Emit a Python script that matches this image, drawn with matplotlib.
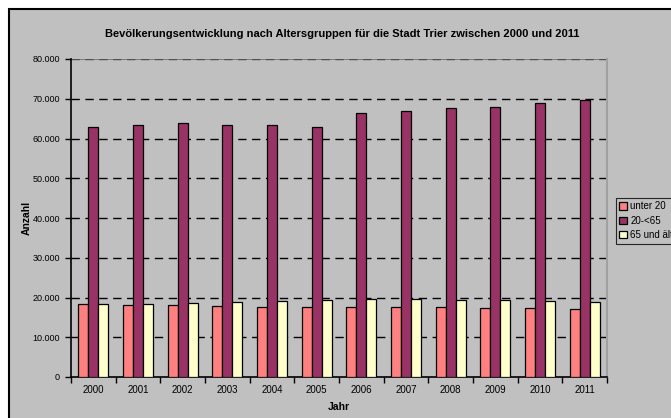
import numpy as np
import matplotlib
matplotlib.use("Agg")
import matplotlib.pyplot as plt
import matplotlib.patches as mpatches
from matplotlib.ticker import FuncFormatter, MultipleLocator

plt.rcParams["font.family"] = ["Liberation Sans", "DejaVu Sans"]

YEARS = [2000, 2001, 2002, 2003, 2004, 2005, 2006, 2007, 2008, 2009, 2010, 2011]
UNTER_20 = [18250, 18150, 18000, 17800, 17700, 17550, 17700, 17550, 17500, 17300, 17300, 17150]
MITTE = [63000, 63500, 63800, 63500, 63300, 62900, 66300, 66900, 67700, 67900, 69000, 69700]
AELTER = [18250, 18400, 18650, 18850, 19200, 19400, 19600, 19500, 19300, 19300, 19000, 18800]
SERIES = ["unter 20", "20-<65", "65 und älter"]

BG = "#c0c0c0"
COLORS = ["#ff8080", "#993366", "#ffffcc"]

W, H = 671, 418


def de_fmt(v, _pos):
    return f"{int(v):,}".replace(",", ".")


def main():
    fig = plt.figure(figsize=(W / 100, H / 100), dpi=100)
    fig.patch.set_facecolor("white")

    # chart area (grey box with black frame, runs off right/bottom edge)
    fig.patches.append(mpatches.Rectangle(
        (8.5 / W, -0.05), 1.1, 1 - 8.5 / H + 0.05,
        transform=fig.transFigure, facecolor=BG, edgecolor="black",
        linewidth=1.5, zorder=-10))

    ax = fig.add_axes([71 / W, 41 / H, (607 - 71) / W, (377.5 - 59.5) / H])
    ax.set_facecolor(BG)

    x = np.arange(len(YEARS))
    bw = 0.224
    for i, (vals, col, name) in enumerate(zip([UNTER_20, MITTE, AELTER], COLORS, SERIES)):
        ax.bar(x + (i - 1) * bw, vals, bw, color=col, edgecolor="black",
               linewidth=0.9, label=name, zorder=3)

    ax.set_xlim(-0.5, len(YEARS) - 0.5)
    ax.set_ylim(0, 80000)
    ax.yaxis.set_major_locator(MultipleLocator(10000))
    ax.yaxis.set_major_formatter(FuncFormatter(de_fmt))

    for v in range(10000, 80000, 10000):
        ax.axhline(v, color="black", linewidth=1, dashes=(6, 4), zorder=1)
    ax.axhline(80000, color="#808080", linewidth=1.5, zorder=1)
    ax.axhline(80000, color="#505050", linewidth=1, dashes=(6, 4), zorder=1)

    ax.set_xticks(x)
    ax.set_xticklabels([str(y) for y in YEARS])
    ax.set_xticks(np.arange(-0.5, len(YEARS)), minor=True)
    ax.tick_params(axis="x", which="major", length=0, pad=6, labelsize=7)
    ax.tick_params(axis="x", which="minor", length=4, width=1, direction="out")
    ax.tick_params(axis="y", length=4, width=1, direction="out", labelsize=6.5, pad=4)

    for s in ("left", "bottom"):
        ax.spines[s].set_color("black")
        ax.spines[s].set_linewidth(1.2)
    ax.spines["top"].set_visible(False)
    ax.spines["right"].set_color("#a0a0a0")
    ax.spines["right"].set_linewidth(1.5)

    ax.set_xlabel("Jahr", fontsize=7.5, fontweight="bold")
    ax.xaxis.set_label_coords(0.5, -25 / 318)
    ax.set_ylabel("Anzahl", fontsize=7.5, fontweight="bold")
    ax.yaxis.set_label_coords(-39 / 536, 0.5)

    fig.text(342 / W, 1 - 34 / H,
             "Bevölkerungsentwicklung nach Altersgruppen für die Stadt Trier zwischen 2000 und 2011",
             ha="center", va="center", fontsize=8, fontweight="bold")

    leg = fig.legend(loc="upper left", bbox_to_anchor=(616 / W, 1 - 198 / H),
                     fontsize=7, frameon=True, fancybox=False,
                     handlelength=0.8, handleheight=0.8, handletextpad=0.3,
                     labelspacing=0.45, borderpad=0.35, borderaxespad=0)
    leg.get_frame().set_facecolor(BG)
    leg.get_frame().set_edgecolor("black")
    leg.get_frame().set_linewidth(0.8)

    fig.savefig("out.png", dpi=100)
    plt.close(fig)


if __name__ == "__main__":
    main()
